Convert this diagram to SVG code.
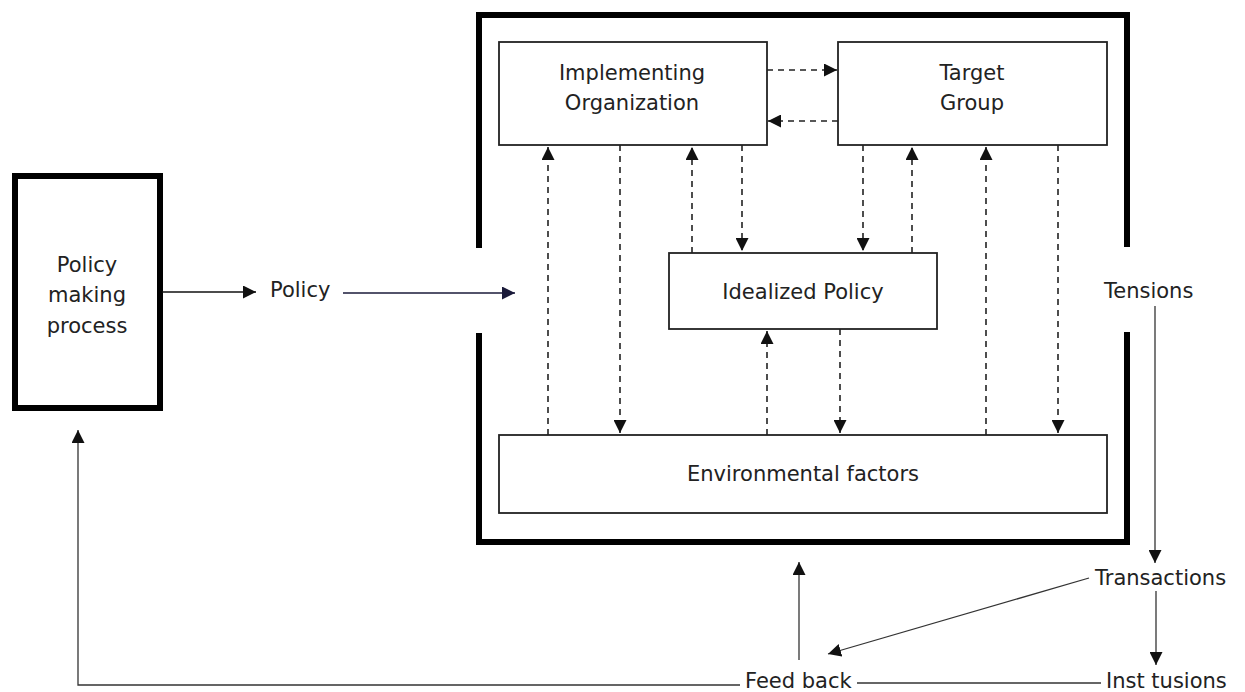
<svg xmlns="http://www.w3.org/2000/svg" width="1245" height="692" viewBox="0 0 1245 692">
<defs>
<marker id="ah" viewBox="0 0 10 10" refX="10" refY="5" markerWidth="13" markerHeight="13" markerUnits="userSpaceOnUse" orient="auto">
<path d="M0,0 L10,5 L0,10 z" fill="#111"/>
</marker>
<marker id="ahn" viewBox="0 0 10 10" refX="10" refY="5" markerWidth="13" markerHeight="13" markerUnits="userSpaceOnUse" orient="auto">
<path d="M0,0 L10,5 L0,10 z" fill="#1a1a3a"/>
</marker>
</defs>
<style>
.box{fill:#fff;stroke:#222;stroke-width:1.8}
.thick{fill:none;stroke:#000;stroke-width:6}
.t{font-family:"DejaVu Sans",Verdana,sans-serif;font-size:21px;fill:#222;text-anchor:middle}
.tl{font-family:"DejaVu Sans",Verdana,sans-serif;font-size:21px;fill:#222}
.d{stroke:#222;stroke-width:1.6;stroke-dasharray:6,5;fill:none;marker-end:url(#ah)}
.s{stroke:#333;stroke-width:1.3;fill:none}
.sa{stroke:#333;stroke-width:1.3;fill:none;marker-end:url(#ah)}
</style>
<rect width="1245" height="692" fill="#fff"/>

<g id="frame">
<path class="thick" d="M479,248 V15 H1127 V247"/>
<path class="thick" d="M479,333 V542 H1127 V332"/>
</g>

<g id="policy-making">
<rect x="15" y="176" width="145" height="232" fill="#fff" stroke="#000" stroke-width="6"/>
<text class="t" x="87" y="272">Policy</text>
<text class="t" x="87" y="302">making</text>
<text class="t" x="87" y="333">process</text>
</g>

<g id="implementing">
<rect class="box" x="499" y="42" width="268" height="103"/>
<text class="t" x="632" y="80">Implementing</text>
<text class="t" x="632" y="110">Organization</text>
</g>

<g id="target">
<rect class="box" x="838" y="42" width="269" height="103"/>
<text class="t" x="972" y="80">Target</text>
<text class="t" x="972" y="110">Group</text>
</g>

<g id="idealized">
<rect class="box" x="669" y="253" width="268" height="76"/>
<text class="t" x="803" y="299">Idealized Policy</text>
</g>

<g id="environmental">
<rect class="box" x="499" y="435" width="608" height="78"/>
<text class="t" x="803" y="481">Environmental factors</text>
</g>

<g id="labels">
<text class="tl" x="270" y="297">Policy</text>
<text class="tl" x="1104" y="298">Tensions</text>
<text class="tl" x="1095" y="585">Transactions</text>
<text class="tl" x="745" y="688">Feed back</text>
<text class="tl" x="1106" y="688">Inst tusions</text>
</g>

<g id="connectors">
<line class="sa" x1="162" y1="292" x2="256" y2="292" style="stroke:#111;stroke-width:1.6"/>
<line x1="343" y1="293" x2="515" y2="293" stroke="#1a1a3a" stroke-width="1.4" marker-end="url(#ahn)"/>

<line class="d" x1="767" y1="70" x2="837" y2="70"/>
<line class="d" x1="838" y1="121" x2="768" y2="121"/>

<line class="d" x1="548" y1="435" x2="548" y2="147"/>
<line class="d" x1="620" y1="145" x2="620" y2="433"/>
<line class="d" x1="692" y1="253" x2="692" y2="147"/>
<line class="d" x1="742" y1="145" x2="742" y2="251"/>
<line class="d" x1="863" y1="145" x2="863" y2="251"/>
<line class="d" x1="912" y1="253" x2="912" y2="147"/>
<line class="d" x1="986" y1="435" x2="986" y2="147"/>
<line class="d" x1="1058" y1="145" x2="1058" y2="433"/>
<line class="d" x1="767" y1="435" x2="767" y2="331"/>
<line class="d" x1="840" y1="329" x2="840" y2="433"/>

<line class="sa" x1="1155" y1="306" x2="1155" y2="563"/>
<line class="sa" x1="1156" y1="591" x2="1156" y2="665"/>
<line class="sa" x1="1089" y1="578" x2="828" y2="654"/>
<line class="sa" x1="799" y1="660" x2="799" y2="562"/>
<line class="s" x1="857" y1="683" x2="1101" y2="683"/>
<polyline class="sa" points="740,685 78,685 78,430"/>
</g>
</svg>
